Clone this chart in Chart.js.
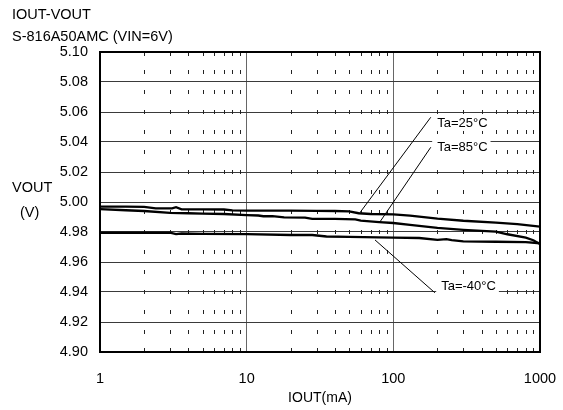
<!DOCTYPE html>
<html>
<head>
<meta charset="utf-8">
<script src="https://cdn.jsdelivr.net/npm/chart.js@4.4.0/dist/chart.umd.min.js"></script>
<style>
html, body { margin: 0; padding: 0; background: #ffffff; }
#chart-wrap { width: 563px; height: 410px; position: relative; }
</style>
</head>
<body>
<div id="chart-wrap"><canvas id="vout-chart-canvas"></canvas></div>
<script>
// IOUT (mA) / VOUT (V)
var iout25 = [1, 1.5, 2, 2.4, 3.1, 3.3, 3.6, 5, 7, 8, 10, 15, 20, 30, 40, 50, 58, 70, 100, 130, 200, 300, 500, 700, 1000];
var vout25 = [4.9969, 4.9969, 4.9968, 4.9958, 4.9958, 4.9966, 4.9951, 4.9951, 4.9950, 4.9944, 4.9943, 4.9942, 4.9942, 4.9941, 4.9940, 4.9938, 4.9925, 4.9920, 4.9918, 4.9909, 4.9889, 4.9875, 4.9863, 4.9853, 4.9836];

var iout85 = [1, 1.5, 2, 3, 4, 5, 7, 10, 12, 13, 15, 18, 25, 28, 40, 55, 60, 80, 100, 130, 200, 300, 500, 600, 800, 900, 1000];
var vout85 = [4.9953, 4.9945, 4.9940, 4.9927, 4.9925, 4.9922, 4.9920, 4.9913, 4.9910, 4.9905, 4.9906, 4.9897, 4.9896, 4.9888, 4.9887, 4.9884, 4.9876, 4.9866, 4.9860, 4.9847, 4.9827, 4.9814, 4.9802, 4.9785, 4.9762, 4.9745, 4.9720];

var ioutM40 = [1, 3, 3.3, 3.6, 5, 10, 20, 28, 35, 50, 100, 150, 200, 230, 250, 300, 500, 800, 1000];
var voutM40 = [4.9795, 4.9795, 4.9786, 4.9790, 4.9788, 4.9786, 4.9780, 4.9780, 4.9770, 4.9768, 4.9763, 4.9760, 4.9748, 4.9752, 4.9746, 4.9738, 4.9735, 4.9732, 4.9725];

var xTickValues = [1, 10, 100, 1000];

// curve labels and their leader lines, in data units
var labelTexts = ['Ta=25°C', 'Ta=85°C', 'Ta=-40°C'];
var leaderFromI = [59, 81, 75];
var leaderFromV = [4.9927, 4.9867, 4.9747];
var leaderToI = [180, 180, 192];
var leaderToV = [5.0565, 5.0365, 4.9395];
var labelI = [199, 199, 212];
var labelV = [5.0527, 5.0362, 4.9437];

var FONT = "'Liberation Sans', Arial, sans-serif";

function makePoints(xs, ys) {
	var pts = [];
	for(let i = 0; i < xs.length; i++)
		pts.push({x: xs[i], y: ys[i]});
	return pts;
}

function curveDataset(name, xs, ys) {
	return {
		label: name,
		data: makePoints(xs, ys),
		borderColor: '#000',
		backgroundColor: '#000',
		borderWidth: 2.3,
		pointRadius: 0,
		tension: 0,
		fill: false
	};
}

var decorPlugin = {
	id: 'decor',
	beforeDatasetsDraw: function(chart) {
		var ctx = chart.ctx;
		var area = chart.chartArea;
		var xs = chart.scales.x;
		var rows = 15;
		ctx.save();
		ctx.strokeStyle = '#222';
		ctx.lineWidth = 1;
		ctx.beginPath();
		for(let d = 1; d < 1000; d *= 10) {
			for(let m = 2; m <= 9; m++) {
				var px = Math.round(xs.getPixelForValue(d * m)) + 0.5;
				for(let r = 0; r <= rows; r++) {
					var py = area.top + (area.bottom - area.top) * r / rows;
					var y0 = py - 2, y1 = py + 2;
					if(r === 0) { y0 = py; y1 = py + 4; }
					if(r === rows) { y0 = py - 4; y1 = py; }
					ctx.moveTo(px, y0);
					ctx.lineTo(px, y1);
				}
			}
		}
		ctx.stroke();
		ctx.restore();
	},
	afterDatasetsDraw: function(chart) {
		var ctx = chart.ctx;
		var area = chart.chartArea;
		var xs = chart.scales.x, ys = chart.scales.y;
		ctx.save();

		// labels with leader lines
		ctx.font = '13px ' + FONT;
		ctx.textBaseline = 'middle';
		for(let i = 0; i < labelTexts.length; i++) {
			var tx = xs.getPixelForValue(labelI[i]);
			var ty = ys.getPixelForValue(labelV[i]);
			var w = ctx.measureText(labelTexts[i]).width;
			ctx.fillStyle = '#ffffff';
			ctx.fillRect(tx - 5, ty - 8, w + 8, 16);
			ctx.strokeStyle = '#000';
			ctx.lineWidth = 1;
			ctx.beginPath();
			ctx.moveTo(xs.getPixelForValue(leaderFromI[i]), ys.getPixelForValue(leaderFromV[i]));
			ctx.lineTo(xs.getPixelForValue(leaderToI[i]), ys.getPixelForValue(leaderToV[i]));
			ctx.stroke();
			ctx.fillStyle = '#000';
			ctx.textAlign = 'left';
			ctx.fillText(labelTexts[i], tx, ty);
		}

		// frame
		ctx.strokeStyle = '#000';
		ctx.lineWidth = 2;
		ctx.strokeRect(area.left, area.top, area.right - area.left, area.bottom - area.top);

		// titles
		ctx.fillStyle = '#000';
		ctx.font = '14.5px ' + FONT;
		ctx.textAlign = 'left';
		ctx.fillText('IOUT-VOUT', 12, 15);
		ctx.fillText('S-816A50AMC (VIN=6V)', 12, 37);
		ctx.fillText('VOUT', 12, 188);
		ctx.fillText('(V)', 20, 213);
		ctx.restore();
	}
};

window.onload = function() {
	window.voutChart = new Chart(document.getElementById('vout-chart-canvas'), {
		type: 'line',
		data: {
			datasets: [
				curveDataset('Ta=25°C', iout25, vout25),
				curveDataset('Ta=85°C', iout85, vout85),
				curveDataset('Ta=-40°C', ioutM40, voutM40)
			]
		},
		options: {
			responsive: true,
			maintainAspectRatio: false,
			animation: false,
			layout: {
				padding: {top: 52, right: 23, bottom: 0, left: 0}
			},
			plugins: {
				legend: {display: false},
				tooltip: {enabled: false}
			},
			scales: {
				x: {
					type: 'logarithmic',
					min: 1,
					max: 1000,
					afterBuildTicks: function(scale) {
						scale.ticks = xTickValues.map(function(v) { return {value: v}; });
					},
					afterFit: function(scale) {
						scale.height = 58;
						scale.paddingLeft = 0;
						scale.paddingRight = 0;
					},
					ticks: {
						color: '#000',
						font: {family: FONT, size: 14.5},
						padding: 18,
						maxRotation: 0,
						callback: function(v) { return String(v); }
					},
					grid: {color: '#666', lineWidth: 1, drawTicks: false},
					border: {display: false},
					title: {
						display: true,
						text: 'IOUT(mA)',
						color: '#000',
						font: {family: FONT, size: 14},
						padding: {top: 0, bottom: 3}
					}
				},
				y: {
					type: 'linear',
					min: 4.90,
					max: 5.10,
					afterFit: function(scale) {
						scale.width = 100;
						scale.paddingTop = 0;
						scale.paddingBottom = 0;
					},
					ticks: {
						stepSize: 0.02,
						color: '#000',
						font: {family: FONT, size: 14.5},
						padding: 12,
						callback: function(v) { return Number(v).toFixed(2); }
					},
					grid: {color: '#3a3a3a', lineWidth: 1, drawTicks: false},
					border: {display: false}
				}
			}
		},
		plugins: [decorPlugin]
	});
};
</script>
</body>
</html>
